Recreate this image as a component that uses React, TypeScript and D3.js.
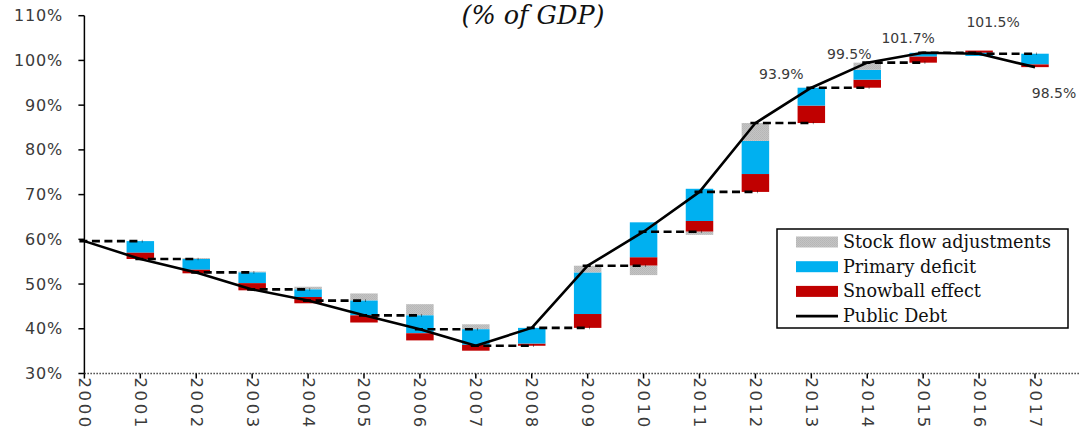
import React from "react";
import * as d3 from "d3";

// Debt-to-GDP ratio (%), end of year
const years = [2000, 2001, 2002, 2003, 2004, 2005, 2006, 2007, 2008, 2009, 2010, 2011, 2012, 2013, 2014, 2015, 2016, 2017];
const publicDebt = [59.6, 55.6, 52.6, 48.8, 46.3, 43.0, 39.9, 36.2, 40.2, 54.1, 61.7, 70.6, 86.0, 93.9, 99.5, 101.7, 101.5, 98.5];

// Yearly contributions to the change in debt (pp of GDP), 2001..2017
const snowballEffect = [-1.4, -0.8, -1.6, -1.4, -1.6, -1.6, -1.3, 0.5, 3.1, 1.9, 2.4, 4.0, 3.9, 1.8, 1.4, 0.5, -0.6];
const primaryDeficit = [-2.6, -2.4, -2.4, -1.7, -3.3, -4.0, -3.5, 3.5, 9.3, 7.8, 7.2, 7.4, 4.0, 2.2, 0.8, -0.7, -2.4];
const stockFlow = [0.0, 0.2, 0.2, 0.6, 1.6, 2.5, 1.1, 0.0, 1.5, -2.1, -0.7, 4.0, 0.0, 1.6, 0.0, 0.0, 0.0];

const yTicks = [30, 40, 50, 60, 70, 80, 90, 100, 110];
const labelledYears = [2013, 2014, 2015, 2016, 2017];
const legendItems = ["Stock flow adjustments", "Primary deficit", "Snowball effect", "Public Debt"];

const W = 1080;
const H = 432;
const BLUE = "#00b0f0";
const RED = "#c00000";
const SANS = "'DejaVu Sans', Verdana, sans-serif";
const SERIF = "'DejaVu Serif', Cambria, serif";

// hand-placed offsets of the value labels relative to their points
const labelOffset: Record<number, [number, number]> = {
  2013: [-30, -9],
  2014: [-18, -4],
  2015: [-15, -10],
  2016: [14, -27],
  2017: [19, 31],
};

type Seg = { year: number; key: string; y0: number; y1: number };

export default function App() {
  const x = d3.scalePoint<number>().domain(years).range([84.4, 1035]);
  const y = d3.scaleLinear().domain([30, 110]).range([373.5, 15.7]);
  const barW = 27.5;

  const comps: Record<string, number[]> = {
    snow: snowballEffect,
    prim: primaryDeficit,
    sfa: stockFlow,
  };
  const posOrder = ["snow", "prim", "sfa"];
  const negOrder = ["prim", "snow", "sfa"];

  const segs: Seg[] = [];
  years.slice(1).forEach((yr, i) => {
    const base = publicDebt[i];
    let up = base;
    let down = base;
    posOrder.forEach((k) => {
      const v = comps[k][i];
      if (v > 0) {
        segs.push({ year: yr, key: k, y0: up, y1: up + v });
        up += v;
      }
    });
    negOrder.forEach((k) => {
      const v = comps[k][i];
      if (v < 0) {
        segs.push({ year: yr, key: k, y0: down + v, y1: down });
        down += v;
      }
    });
  });

  const fillOf = (k: string) => (k === "snow" ? RED : k === "prim" ? BLUE : "url(#sfaPattern)");

  const line = d3
    .line<number>()
    .x((_, i) => x(years[i]) as number)
    .y((d) => y(d));

  const xAxisY = y(30);
  const legX = 777;
  const legY = 229;
  const rowY = (i: number) => legY + 13 + i * 24.7;

  return (
    <svg
      width={W}
      height={H}
      style={{ position: "absolute", left: 0, top: 0, display: "block", background: "#fff" }}
    >
      <defs>
        <pattern id="sfaPattern" width="2" height="2" patternUnits="userSpaceOnUse">
          <rect width="2" height="2" fill="#c4c4c4" />
          <rect x="0" y="0" width="1" height="1" fill="#b6b6b6" />
          <rect x="1" y="1" width="1" height="1" fill="#b9b9b9" />
        </pattern>
      </defs>

      {/* title */}
      <text
        x={533}
        y={24}
        textAnchor="middle"
        fontFamily={SERIF}
        fontStyle="italic"
        fontSize={25.5}
        fill="#111"
      >
        (% of GDP)
      </text>

      {/* y axis */}
      <line x1={x(2000)} x2={x(2000)} y1={y(110)} y2={y(30)} stroke="#000" strokeWidth={1.5} />
      {yTicks.map((t) => (
        <g key={t}>
          <line x1={x(2000)! - 6} x2={x(2000)} y1={y(t)} y2={y(t)} stroke="#000" strokeWidth={1.5} />
          <text
            x={63}
            y={y(t)}
            textAnchor="end"
            dominantBaseline="central"
            fontFamily={SANS}
            fontSize={16}
            letterSpacing={0.8}
            fill="#3a3a3a"
          >
            {t}%
          </text>
        </g>
      ))}

      {/* x axis */}
      <line
        x1={x(2000)}
        x2={W}
        y1={xAxisY}
        y2={xAxisY}
        stroke="#444"
        strokeWidth={1.5}
        strokeDasharray="1.5 1.5"
      />
      {years.map((yr) => (
        <g key={yr}>
          <line x1={x(yr)} x2={x(yr)} y1={xAxisY} y2={xAxisY + 5} stroke="#000" strokeWidth={1.5} />
          <text
            transform={`translate(${x(yr)},${xAxisY + 4}) rotate(90)`}
            dominantBaseline="central"
            fontFamily={SANS}
            fontSize={16.5}
            letterSpacing={2.6}
            fill="#3a3a3a"
          >
            {yr}
          </text>
        </g>
      ))}

      {/* contribution bars */}
      {segs.map((s, i) => (
        <rect
          key={i}
          x={(x(s.year) as number) - barW / 2}
          y={y(s.y1)}
          width={barW}
          height={Math.max(0, y(s.y0) - y(s.y1))}
          fill={fillOf(s.key)}
        />
      ))}

      {/* previous-year debt levels */}
      {years.slice(1).map((yr, i) => (
        <line
          key={yr}
          x1={(x(years[i]) as number) - 5}
          x2={(x(yr) as number) + 2}
          y1={y(publicDebt[i])}
          y2={y(publicDebt[i])}
          stroke="#000"
          strokeWidth={2.6}
          strokeDasharray="8 4.5"
        />
      ))}

      {/* public debt line */}
      <path d={line(publicDebt) ?? ""} fill="none" stroke="#000" strokeWidth={2.6} strokeLinejoin="round" />

      {/* value labels */}
      {labelledYears.map((yr) => {
        const i = years.indexOf(yr);
        const [dx, dy] = labelOffset[yr];
        return (
          <text
            key={yr}
            x={(x(yr) as number) + dx}
            y={y(publicDebt[i]) + dy}
            textAnchor="middle"
            fontFamily={SANS}
            fontSize={14}
            fill="#3a3a3a"
          >
            {d3.format(".1f")(publicDebt[i])}%
          </text>
        );
      })}

      {/* legend */}
      <rect x={legX} y={legY} width={291} height={99} fill="#fff" stroke="#000" strokeWidth={1.5} />
      {legendItems.map((name, i) => (
        <g key={name}>
          {i === 3 ? (
            <line x1={796} x2={838} y1={rowY(i)} y2={rowY(i)} stroke="#000" strokeWidth={2.6} />
          ) : (
            <rect
              x={796}
              y={rowY(i) - 5.5}
              width={42}
              height={11}
              fill={i === 0 ? "url(#sfaPattern)" : i === 1 ? BLUE : RED}
            />
          )}
          <text
            x={843}
            y={rowY(i)}
            dominantBaseline="central"
            fontFamily={SERIF}
            fontSize={17.6}
            fill="#111"
          >
            {name}
          </text>
        </g>
      ))}
    </svg>
  );
}
